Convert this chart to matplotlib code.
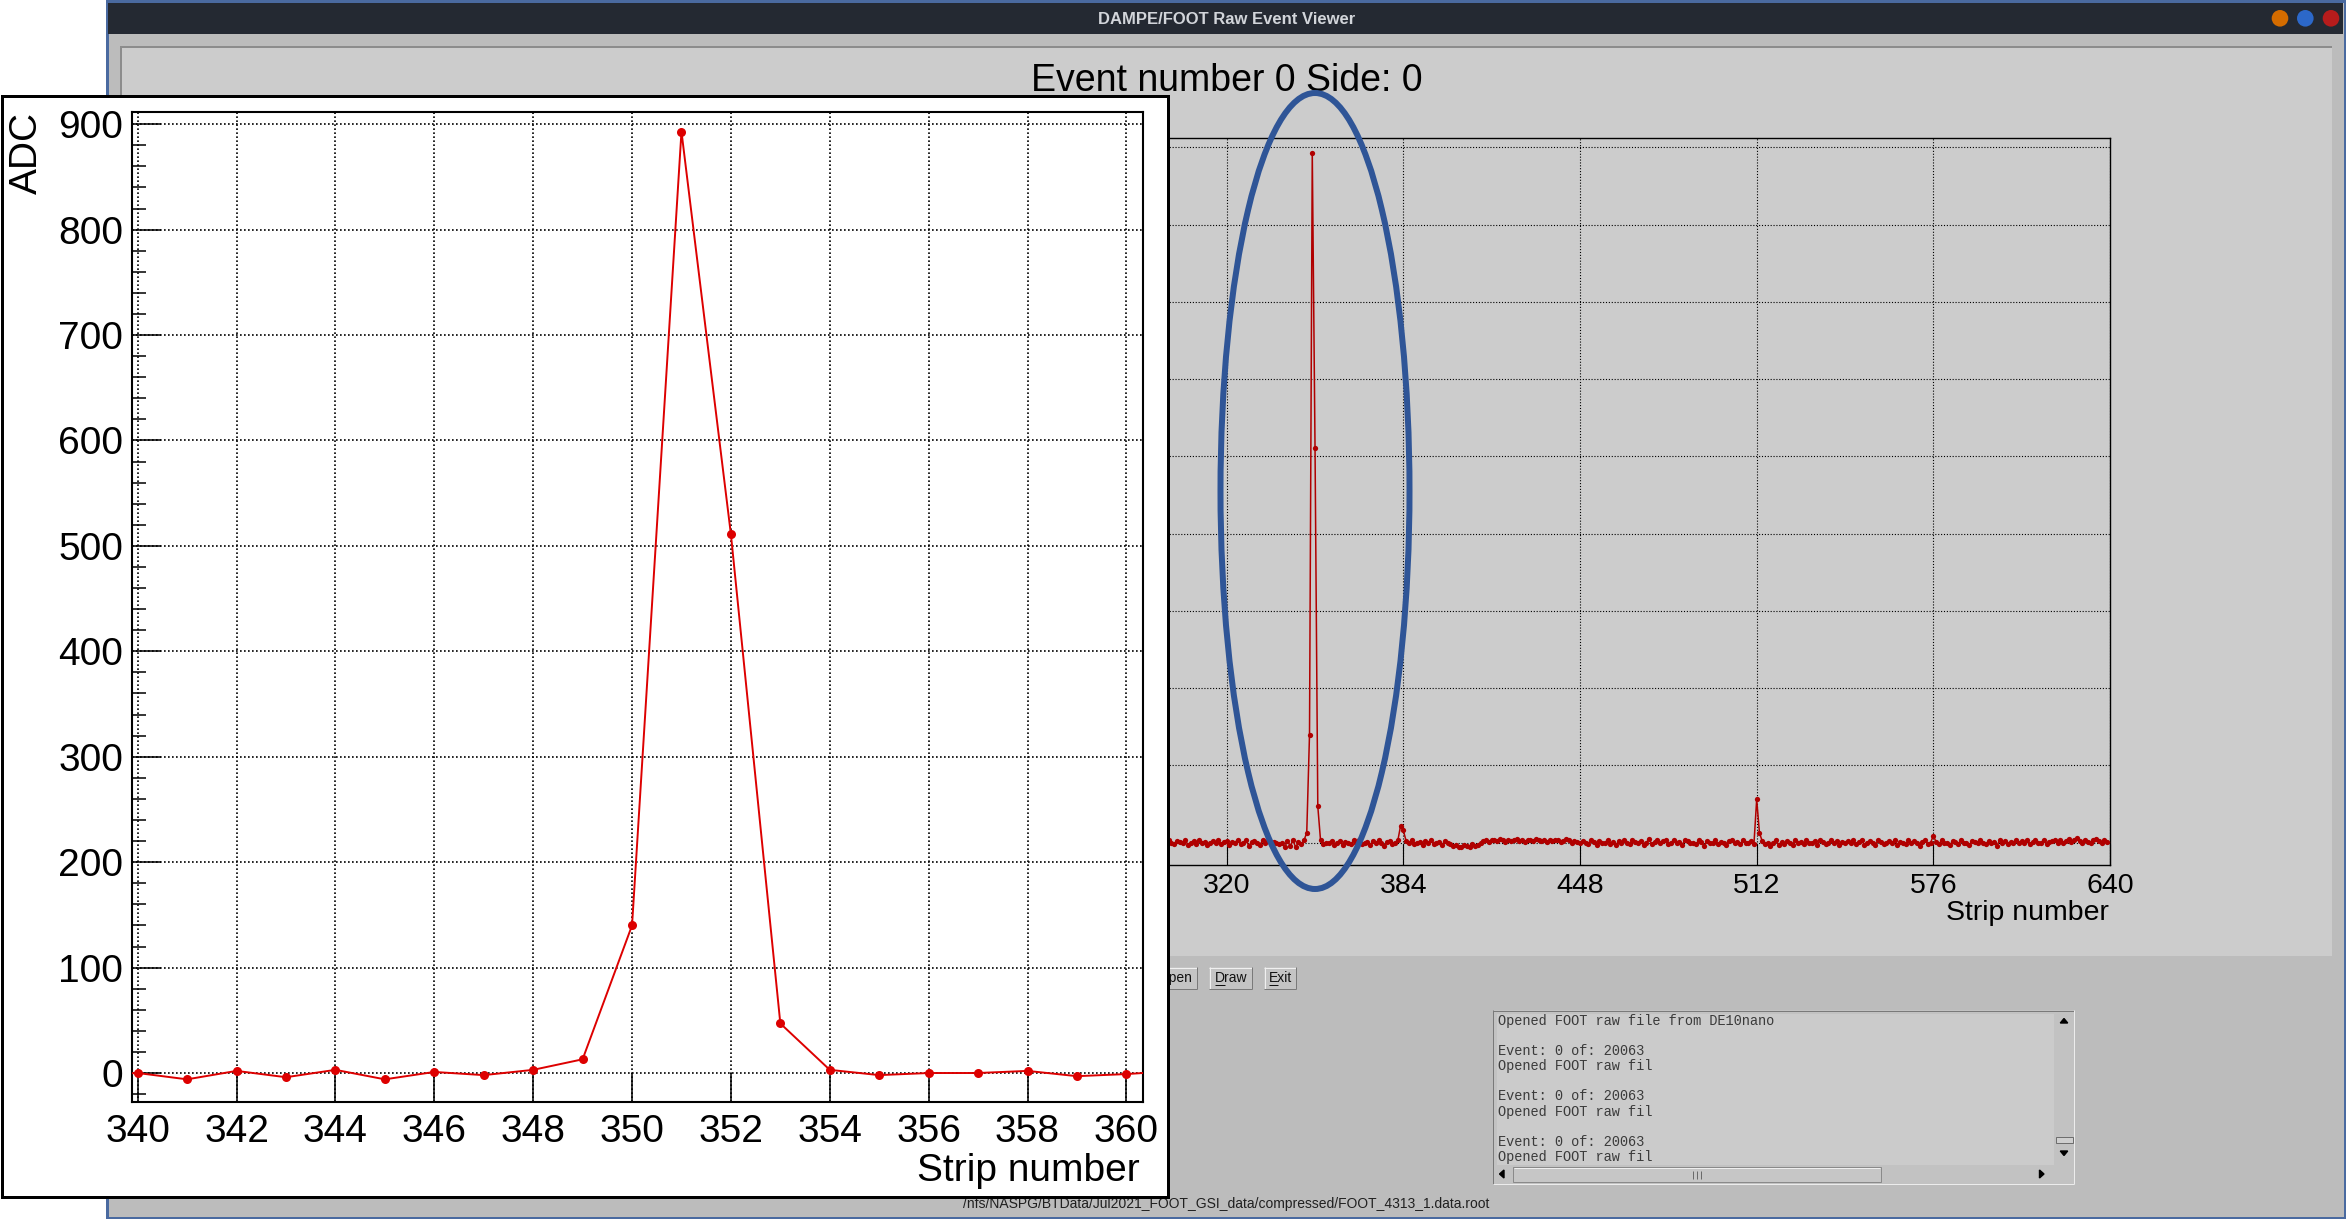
import numpy as np
import matplotlib
matplotlib.use('Agg')
import matplotlib.pyplot as plt
from matplotlib.patches import Rectangle, Ellipse, Circle, Polygon
from matplotlib.ticker import MultipleLocator

plt.rcParams['font.family'] = ['Liberation Sans', 'DejaVu Sans']

W, H = 2346, 1219
DPI = 100
PT = 72.0 / DPI  # points per pixel

# ---------------- data ----------------
window_title = "DAMPE/FOOT Raw Event Viewer"
main_title = "Event number 0 Side: 0"
x_label = "Strip number"
y_label = "ADC"
file_path = "/nfs/NASPG/BTData/Jul2021_FOOT_GSI_data/compressed/FOOT_4313_1.data.root"
button_labels = ["Open", "Draw", "Exit"]
log_lines = ["Opened FOOT raw file from DE10nano", "",
             "Event: 0 of: 20063", "Opened FOOT raw fil", "",
             "Event: 0 of: 20063", "Opened FOOT raw fil", "",
             "Event: 0 of: 20063", "Opened FOOT raw fil"]

main_xticks = [0, 64, 128, 192, 256, 320, 384, 448, 512, 576, 640]
main_yticks = [0, 100, 200, 300, 400, 500, 600, 700, 800, 900]
inset_xticks = [340, 342, 344, 346, 348, 350, 352, 354, 356, 358, 360]
inset_yticks = [0, 100, 200, 300, 400, 500, 600, 700, 800, 900]

# ADC value of each strip 0..639 (pedestal subtracted)
adc = [
    2, -1, 3, 0, -3, 1, 4, -2, 0, 2, -4, 1, 3, -1, -2, 0, 5, -3, 1, 2, -1, 0, -4, 3, 1, -2, 2, 0, -1, 4, -3, 1,
    0, 3, -2, -1, 2, 4, -3, 0, 1, -2, 3, -4, 2, 0, 1, -1, -3, 4, 2, -2, 0, 1, -1, 3, -4, 2, -1, 0, 3, -2, 1, -3,
    2, 0, -1, 4, -2, 1, -3, 3, 0, -1, 2, -4, 1, 3, -2, 0, 4, -1, -3, 2, 1, -2, 0, 3, -1, -4, 2, 1, 0, -2, 3, -1,
    -3, 1, 2, -1, 4, 0, -2, 3, -4, 1, 0, 2, -1, -3, 3, 1, -2, 4, 0, -1, 2, -3, 1, 0, 3, -2, -1, 4, -3, 2, 0, 1,
    1, -2, 3, 0, -1, 2, -4, 1, 3, -2, 0, 4, -1, -3, 2, 0, 1, -2, 3, -1, -4, 2, 0, 1, -3, 3, -1, 2, 0, -2, 4, -1,
    0, 2, -3, 1, -1, 3, 0, -2, 2, -4, 1, 3, -1, 0, -2, 4, -3, 1, 2, -1, 0, 3, -2, -1, 4, -3, 1, 0, 2, -1, -2, 3,
    -1, 3, 0, -2, 1, 4, -3, 2, 0, -1, 3, -2, 1, -4, 2, 0, 3, -1, -2, 1, 4, -3, 0, 2, -1, 1, -3, 3, 0, -2, 2, 1,
    3, -1, -2, 2, 0, -4, 1, 3, -1, 2, -3, 0, 4, -2, 1, -1, 2, 0, -3, 3, 1, -2, -1, 4, 0, -3, 2, 1, -1, 0, 3, -2,
    1, 0, -3, 2, -1, 3, 1, -4, 2, 0, -2, 3, -1, 1, 4, -3, 0, 2, -2, 1, -1, 3, -4, 0, 2, 1, -2, 3, -1, -3, 2, 0,
    -2, 3, 1, -1, 0, 4, -3, 2, -1, 1, -4, 3, 0, -2, 2, 1, -1, 3, -3, 0, 2, -2, 4, -1, 1, -3, 0, 2, -1, 3, -2, 1,
    2, -3, 1, 0, 4, -2, -1, 3, -4, 1, 2, 0, -3, 3, -1, 2, -2, 1, 0, -2, 0, -6, 2, -4, 3, -6, 1, -2, 3, 13, 140, 893,
    511, 47, 3, -2, 0, 0, 2, -3, -1, 2, -3, 1, 0, -2, 3, -1, 4, -2, 0, 1, -3, 2, -1, 3, 0, -4, 1, 2, -2, 0, 3, 22,
    16, 2, -1, 3, -2, 0, 1, -3, 2, -1, 4, -2, 0, 1, -3, 2, -1, -2, -4, -3, -5, -6, -3, -4, -5, -2, -4, -3, -1, 2, 3, 1,
    3, 4, 2, 5, 3, 1, 4, 2, 3, 5, 2, 4, 1, 3, 4, 2, 5, 3, 2, 4, 1, 3, 2, 4, 3, 1, 2, 5, 3, 0, 2, 1,
    -1, 2, 0, -2, 3, 1, -3, 2, 0, -1, 4, -2, 1, -3, 2, 0, 3, -1, -2, 4, 1, -1, 2, -3, 0, 5, -2, 1, 3, -1, 2, 4,
    -2, 0, 3, -1, 1, -3, 4, 2, -1, 0, -2, 3, 1, -4, 2, 0, -1, 3, -2, 1, 0, -3, 2, 4, -1, 1, -2, 3, 0, -1, 2, -2,
    56, 13, 2, -2, 0, -4, -1, 3, -3, 1, -2, 2, 0, -3, 4, -1, 1, -2, 3, 0, -1, 2, -3, 4, 1, -2, 0, 3, -1, 2, -3, 1,
    0, 2, -1, 3, -2, 1, 4, -3, 0, 2, -1, -3, 3, 1, -2, 0, 2, -1, 4, -3, 1, 0, -2, 3, -1, 2, 0, -4, 1, 3, -2, 0,
    9, 1, -2, 3, -1, 0, -3, 2, 1, -2, 4, 0, -1, -3, 2, 1, -1, 3, 0, -2, 2, -1, 1, -4, 3, 0, 2, -2, 1, -1, 3, 0,
    2, -1, 3, -2, 1, 4, -1, 0, 3, -2, 1, 2, 4, -1, 3, 0, 2, 5, 1, 3, 6, 2, 0, 4, 1, -1, 3, 5, 2, 0, 4, 1,
]
strips = list(range(len(adc)))

# ---------------- figure ----------------
fig = plt.figure(figsize=(W / DPI, H / DPI), dpi=DPI)
fig.patch.set_facecolor('white')


def px_axes(x0, y0, x1, y1, z):
    return fig.add_axes([x0 / W, 1 - y1 / H, (x1 - x0) / W, (y1 - y0) / H], zorder=z)


def overlay(z):
    a = px_axes(0, 0, W, H, z)
    a.set_xlim(0, W)
    a.set_ylim(H, 0)
    a.axis('off')
    return a


bg = overlay(0)
fg = overlay(2)


def rect(a, x0, y0, x1, y1, fc, ec='none', lw=0, **kw):
    p = Rectangle((x0, y0), x1 - x0, y1 - y0, facecolor=fc, edgecolor=ec, linewidth=lw, **kw)
    a.add_patch(p)
    return p


def hline(a, x0, x1, y, c, w=1):
    a.plot([x0, x1], [y, y], color=c, lw=w * PT, solid_capstyle='butt')


def vline(a, x, y0, y1, c, w=1):
    a.plot([x, x], [y0, y1], color=c, lw=w * PT, solid_capstyle='butt')


# window
rect(bg, 106.5, 0.5, 2345, 1217.5, '#bcbcbc', '#4a6aa0', 3 * PT)
rect(bg, 108, 3, 2343, 34, '#242932')
bg.text(1227, 24.5, window_title, ha='center', va='baseline', fontsize=12,
        fontweight='bold', color='#d2d5da')
for cx, col in [(2280, '#d46c00'), (2305.3, '#2c68c9'), (2331, '#b71c1c')]:
    bg.add_patch(Circle((cx, 18.3), 8.3, facecolor=col, edgecolor='none'))

# ROOT canvas
rect(bg, 120, 46, 2332, 956, '#cccccc')
hline(bg, 120, 2332, 47, '#8c8c8c', 2)
vline(bg, 121, 46, 956, '#8c8c8c', 2)
bg.text(1227, 91, main_title, ha='center', va='baseline', fontsize=27, color='black')

# buttons
renderer = fig.canvas.get_renderer()
buttons = [(1152, 1197, 1175), (1209, 1252, 1231), (1264, 1296, 1280.5)]
for lab, (x0, x1, cx) in zip(button_labels, buttons):
    rect(bg, x0, 967, x1, 989, '#c4c4c4')
    hline(bg, x0, x1, 967.5, '#f0f0f0')
    vline(bg, x0 + 0.5, 967, 989, '#f0f0f0')
    hline(bg, x0, x1, 988.5, '#7a7a7a')
    vline(bg, x1 - 0.5, 967, 989, '#7a7a7a')
    t = bg.text(cx, 982, lab, ha='center', va='baseline', fontsize=10, color='#111111')
    bb = t.get_window_extent(renderer)
    tmp = bg.text(0, 0, lab[0], fontsize=10)
    w0 = tmp.get_window_extent(renderer).width
    tmp.remove()
    hline(bg, bb.x0, bb.x0 + w0, 984.5, '#111111', 1)

# text view with scrollbars
rect(bg, 1492.7, 1010, 2074, 1184, '#c2c2c2')
hline(bg, 1492.7, 2074, 1010.5, '#7a7a7a')
vline(bg, 1493.2, 1010, 1184, '#7a7a7a')
hline(bg, 1492.7, 2074, 1183.5, '#ececec')
vline(bg, 2073.5, 1010, 1184, '#ececec')
area = rect(bg, 1496.5, 1013.5, 2054, 1164.5, '#cbcbcb')
for i, line in enumerate(log_lines):
    if line:
        tt = bg.text(1497.8, 1024.5 + 15.2 * i, line, ha='left', va='baseline',
                     fontsize=9.8, family=['Liberation Mono', 'DejaVu Sans Mono'], color='#3b3b3b')
        tt.set_clip_path(area)
# horizontal scrollbar
rect(bg, 1513, 1167, 1881, 1182, '#c6c6c6', '#8a8a8a', 1 * PT)
hline(bg, 1514, 1880, 1168, '#eeeeee')
for gx in (1693, 1696.8, 1700.6):
    vline(bg, gx, 1171, 1178.5, '#6a6a6a')
bg.add_patch(Polygon([[1504, 1170], [1504, 1178], [1499.5, 1174]], closed=True, color='black'))
bg.add_patch(Polygon([[2039.5, 1170], [2039.5, 1178], [2044, 1174]], closed=True, color='black'))
# vertical scrollbar
bg.add_patch(Polygon([[2060.3, 1023], [2067.7, 1023], [2064, 1018.5]], closed=True, color='black'))
bg.add_patch(Polygon([[2060.3, 1151], [2067.7, 1151], [2064, 1155.5]], closed=True, color='black'))
rect(bg, 2055.5, 1137, 2073, 1143, '#cfcfcf', '#6e6e6e', 1 * PT)

# status bar text
bg.text(1226, 1208, file_path, ha='center', va='baseline', fontsize=10, color='#202020')

# ---------------- main ROOT pad ----------------
ax = px_axes(343.4, 138, 2110, 864.5, 1)
ax.set_facecolor('#cccccc')
ax.plot(strips, adc, color='#b00000', lw=1.1, marker='o', ms=3.8, mew=0, zorder=3)
ax.set_xlim(0, 640)
ax.set_ylim(-28.2, 912)
ax.set_xticks(main_xticks)
ax.set_yticks(main_yticks)
ax.tick_params(direction='in', length=15, width=0.8, labelsize=20.5, pad=6,
               top=False, right=False, colors='black')
ax.grid(True, color='black', lw=0.8, ls=(0, (1, 1.6)))
ax.set_axisbelow(True)
for s in ax.spines.values():
    s.set_linewidth(1.0)
    s.set_color('black')
ax.set_xlabel(x_label, fontsize=20.5, loc='right')
ax.xaxis.set_label_coords(0.99915, -0.0489)

# highlight ellipse
fg.add_patch(Ellipse((1315, 491), 189, 796, fill=False, edgecolor='#2f5597', lw=6 * PT))

# ---------------- zoomed inset ----------------
rect(fg, 2.3, 96, 1167.5, 1196.7, 'white', 'black', 3 * PT)
ix = px_axes(131.5, 112, 1142.5, 1102, 3)
ix.set_facecolor('white')
ix.plot(strips, adc, color='#dd0000', lw=1.4, marker='o', ms=6.5, mew=0, zorder=3)
ix.set_xlim(339.875, 360.326)
ix.set_ylim(-27.5, 911.6)
ix.set_xticks(inset_xticks)
ix.set_yticks(inset_yticks)
ix.yaxis.set_minor_locator(MultipleLocator(20))
ix.tick_params(which='major', direction='in', length=21, width=1.1, labelsize=28,
               top=False, right=False, colors='black')
ix.tick_params(axis='x', which='major', pad=9)
ix.tick_params(axis='y', which='major', pad=6)
ix.tick_params(axis='y', which='minor', direction='in', length=10, width=1.1, right=False)
ix.grid(True, which='major', color='black', lw=1.2, ls=(0, (1, 1.4)))
ix.set_axisbelow(True)
for s in ix.spines.values():
    s.set_linewidth(1.5)
    s.set_color('black')
ix.set_xlabel(x_label, fontsize=28, loc='right')
ix.xaxis.set_label_coords((1140 - 131.5) / 1011, -(1153 - 1102) / 990)
ix.set_ylabel(y_label, fontsize=28, loc='top')
ix.yaxis.set_label_coords((44.6 - 131.5) / 1011, 1.0)

fig.savefig('out.png', dpi=DPI)
